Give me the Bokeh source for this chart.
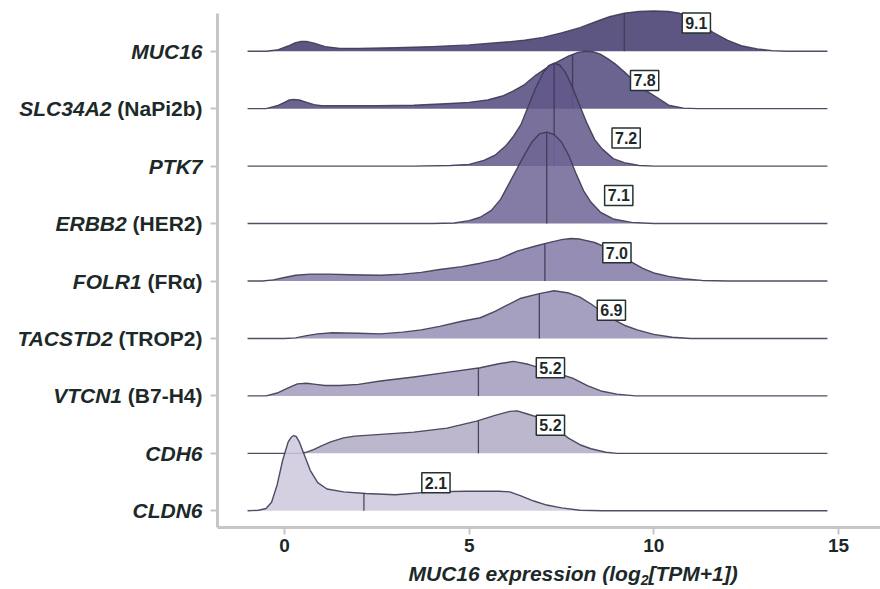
import numpy as np
from bokeh.plotting import figure
from bokeh.models import Range1d, FixedTicker, Label, LinearAxis
from bokeh.embed import file_html
from bokeh.resources import INLINE

# ---------------- data ----------------
genes = ["MUC16", "SLC34A2", "PTK7", "ERBB2", "FOLR1", "TACSTD2", "VTCN1", "CDH6", "CLDN6"]
aliases = ["", "(NaPi2b)", "", "(HER2)", "(FRα)", "(TROP2)", "(B7-H4)", "", ""]
median_labels = ["9.1", "7.8", "7.2", "7.1", "7.0", "6.9", "5.2", "5.2", "2.1"]
medians = [9.2, 7.8, 7.3, 7.1, 7.05, 6.9, 5.25, 5.25, 2.15]
x_ticks = [0, 5, 10, 15]

muc16_x = [-1.0, -0.5, -0.2, 0.1, 0.3, 0.45, 0.6, 0.8, 1.1, 1.5, 2.0, 3.0, 4.0, 5.0, 6.0, 6.5, 7.0, 7.5, 8.0, 8.5, 8.8,
           9.2, 9.6, 10.0, 10.4, 10.7, 11.0, 11.3, 11.6, 12.0, 12.4, 12.8, 13.2, 13.6, 14.7]
muc16_h = [0, 0, 0.02, 0.09, 0.15, 0.17, 0.17, 0.14, 0.08, 0.05, 0.05, 0.06, 0.08, 0.11, 0.16, 0.19, 0.24, 0.32, 0.41, 0.53, 0.60,
           0.66, 0.69, 0.70, 0.69, 0.66, 0.58, 0.46, 0.33, 0.19, 0.09, 0.04, 0.01, 0, 0]

slc34a2_x = [-1.0, -0.5, -0.2, 0.0, 0.12, 0.25, 0.4, 0.6, 0.8, 1.0, 1.5, 2.5, 3.5, 4.5, 5.0, 5.5, 5.9, 6.2, 6.5, 6.8, 7.1, 7.4,
             7.7, 7.95, 8.15, 8.35, 8.55, 8.75, 8.95, 9.2, 9.5, 9.8, 10.1, 10.4, 10.8, 11.2, 14.7]
slc34a2_h = [0, 0, 0.05, 0.11, 0.15, 0.16, 0.15, 0.11, 0.07, 0.05, 0.05, 0.05, 0.06, 0.09, 0.11, 0.15, 0.22, 0.31, 0.42, 0.58, 0.71, 0.82,
             0.92, 0.98, 1.0, 0.99, 0.95, 0.87, 0.78, 0.64, 0.46, 0.31, 0.19, 0.06, 0.01, 0.0, 0]

ptk7_x = [-1.0, 3.5, 4.5, 5.0, 5.4, 5.7, 6.0, 6.2, 6.4, 6.6, 6.8, 7.0, 7.15, 7.3, 7.45, 7.6, 7.8, 8.0, 8.2, 8.4,
          8.6, 8.9, 9.2, 9.6, 10.0, 14.7]
ptk7_h = [0, 0, 0.01, 0.03, 0.10, 0.19, 0.36, 0.52, 0.72, 1.04, 1.36, 1.62, 1.75, 1.79, 1.76, 1.64, 1.37, 1.04, 0.73, 0.46,
          0.30, 0.13, 0.06, 0.01, 0, 0]

erbb2_x = [-1.0, 4.0, 4.6, 5.0, 5.3, 5.6, 5.85, 6.1, 6.3, 6.5, 6.7, 6.9, 7.1, 7.3, 7.5, 7.7, 7.9, 8.1, 8.3, 8.55,
           8.9, 9.4, 10.0, 14.7]
erbb2_h = [0, 0, 0.01, 0.05, 0.11, 0.23, 0.42, 0.72, 0.96, 1.2, 1.42, 1.56, 1.59, 1.55, 1.42, 1.18, 0.86, 0.57, 0.37, 0.2,
           0.08, 0.02, 0, 0]

folr1_x = [-1.0, -0.6, -0.3, 0.0, 0.3, 0.7, 1.2, 1.8, 2.6, 3.2, 3.7, 4.2, 4.8, 5.3, 5.8, 6.3, 6.8, 7.1, 7.5, 7.75, 8.0,
           8.4, 8.8, 9.1, 9.4, 9.7, 10.0, 10.4, 10.8, 11.3, 12.0, 14.7]
folr1_h = [0, 0, 0.02, 0.06, 0.10, 0.12, 0.12, 0.11, 0.10, 0.12, 0.15, 0.20, 0.25, 0.31, 0.38, 0.52, 0.61, 0.66, 0.72, 0.74, 0.73,
           0.67, 0.56, 0.44, 0.33, 0.22, 0.14, 0.08, 0.04, 0.01, 0, 0]

tacstd2_x = [-1.0, 0.0, 0.3, 0.6, 0.9, 1.3, 2.0, 2.6, 3.2, 3.7, 4.2, 4.8, 5.3, 5.7, 6.0, 6.4, 6.9, 7.3, 7.7, 8.0,
             8.3, 8.6, 8.9, 9.2, 9.55, 10.0, 10.5, 11.0, 14.7]
tacstd2_h = [0, 0, 0.01, 0.05, 0.08, 0.10, 0.09, 0.08, 0.11, 0.15, 0.21, 0.30, 0.36, 0.47, 0.57, 0.70, 0.78, 0.83, 0.79, 0.72,
             0.60, 0.46, 0.33, 0.23, 0.15, 0.07, 0.02, 0, 0]

vtcn1_x = [-1.0, -0.5, -0.2, 0.1, 0.35, 0.6, 0.85, 1.1, 1.5, 2.0, 2.6, 3.5, 4.4, 5.3, 5.8, 6.2, 6.6, 7.0, 7.4, 7.8,
           8.2, 8.6, 9.0, 9.5, 14.7]
vtcn1_h = [0, 0, 0.05, 0.14, 0.21, 0.22, 0.20, 0.18, 0.18, 0.20, 0.26, 0.33, 0.41, 0.49, 0.56, 0.60, 0.55, 0.47, 0.39, 0.31,
           0.18, 0.08, 0.03, 0, 0]

cdh6_x = [-1.0, 0.4, 0.6, 0.8, 1.0, 1.25, 1.6, 1.9, 2.6, 3.5, 4.4, 5.2, 5.7, 6.1, 6.3, 6.6, 6.85, 7.1, 7.4, 7.7,
          8.0, 8.3, 8.7, 9.0, 14.7]
cdh6_h = [0, 0, 0.02, 0.07, 0.13, 0.20, 0.27, 0.30, 0.33, 0.37, 0.44, 0.56, 0.66, 0.73, 0.74, 0.68, 0.63, 0.53, 0.40, 0.26,
          0.15, 0.08, 0.02, 0, 0]

cldn6_x = [-1.0, -0.7, -0.5, -0.35, -0.2, -0.05, 0.1, 0.18, 0.25, 0.32, 0.4, 0.55, 0.7, 0.9, 1.15, 1.6, 2.2, 3.0, 4.0, 4.9,
           5.8, 6.1, 6.4, 6.75, 7.1, 7.5, 8.0, 8.6, 14.7]
cldn6_h = [0, 0.01, 0.04, 0.15, 0.45, 0.88, 1.20, 1.28, 1.31, 1.29, 1.20, 0.95, 0.70, 0.49, 0.38, 0.33, 0.30, 0.28, 0.33, 0.34,
           0.34, 0.33, 0.26, 0.17, 0.10, 0.05, 0.01, 0, 0]

densities = [(muc16_x, muc16_h), (slc34a2_x, slc34a2_h), (ptk7_x, ptk7_h), (erbb2_x, erbb2_h),
             (folr1_x, folr1_h), (tacstd2_x, tacstd2_h), (vtcn1_x, vtcn1_h), (cdh6_x, cdh6_h), (cldn6_x, cldn6_h)]

# ---------------- style ----------------
fills = ["#42386c", "#52497c", "#625789", "#706595", "#8379a6", "#978fb5", "#a39bbc", "#b1aac6", "#ccc8dd"]
FILL_ALPHA = 0.85
LINE_COLOR = "#3e3a52"
TEXT_COLOR = "#1d2929"
AXIS_COLOR = "#c6c6c6"
FONT = "Liberation Sans"

# Arial/Liberation Sans Bold advance widths (1/1000 em)
_W = {' ': 278, '(': 333, ')': 333, '[': 333, ']': 333, '+': 584, '-': 333, '.': 278,
      'A': 722, 'B': 722, 'C': 722, 'D': 722, 'E': 667, 'F': 611, 'H': 722, 'L': 611, 'M': 833,
      'N': 722, 'O': 778, 'P': 667, 'R': 722, 'S': 667, 'T': 611, 'U': 722, 'V': 667, 'K': 722,
      'a': 556, 'b': 611, 'e': 556, 'g': 611, 'i': 278, 'l': 278, 'n': 611, 'o': 611, 'p': 611,
      'r': 389, 's': 556, 'x': 556, 'α': 620}


def text_width(s, size):
    return sum(_W.get(c, 556) for c in s) / 1000.0 * size


W, H = 880, 589
# plot geometry (pixels): x=0 at 284 px, 15 at 838 px; ridge 0 baseline at 510.3 px, ridge spacing 57.45 px
KX = (838 - 284) / 15.0
KY = 57.45
X0 = -284 / KX
X1 = X0 + W / KX
Y1 = 510.3 / KY
Y0 = Y1 - H / KY


def sx(px):
    return X0 + px / KX


def sy(py):
    return Y1 - py / KY


SPINE_X = sx(217)
SPINE_Y = sy(526.5)
SPINE_TOP = sy(13)

p = figure(width=W, height=H, x_range=Range1d(X0, X1), y_range=Range1d(Y0, Y1),
           x_axis_type=None, y_axis_type=None,
           output_backend="svg", toolbar_location=None,
           min_border_left=0, min_border_right=0, min_border_top=0, min_border_bottom=0)
p.outline_line_color = None
p.background_fill_color = "white"
p.border_fill_color = "white"

n = len(genes)
for i, (gene, (xs, hs)) in enumerate(zip(genes, densities)):
    base = n - 1 - i
    xs = np.asarray(xs, dtype=float)
    hs = np.asarray(hs, dtype=float)
    px = np.concatenate([xs, xs[::-1]])
    py = np.concatenate([base + hs, np.full(len(xs), base)])
    p.patch(px, py, fill_color=fills[i], fill_alpha=FILL_ALPHA, line_color=None)
    p.line(xs, base + hs, line_color=LINE_COLOR, line_width=1.4, line_alpha=0.9, line_join="round")
    m = medians[i]
    hm = float(np.interp(m, xs, hs))
    p.segment(x0=[m], y0=[base], x1=[m], y1=[base + hm], line_color=LINE_COLOR, line_width=1.3, line_alpha=0.9)

# value boxes
for i in range(n):
    base = n - 1 - i
    p.add_layout(Label(x=medians[i] + 1.95, y=base + 0.49, text=median_labels[i],
                       text_align="center", text_baseline="middle",
                       text_font=FONT, text_font_size="16px", text_font_style="bold",
                       text_color=TEXT_COLOR,
                       border_line_color="#243232", border_line_width=1.5,
                       background_fill_color="white", background_fill_alpha=1.0,
                       padding=dict(left=3, right=3, top=4, bottom=4)))

# axes (fixed inside the full-canvas frame)
xaxis = LinearAxis(fixed_location=SPINE_Y, bounds=(SPINE_X, X1))
xaxis.ticker = FixedTicker(ticks=x_ticks)
xaxis.minor_tick_line_color = None
xaxis.axis_line_color = AXIS_COLOR
xaxis.axis_line_width = 3
xaxis.major_tick_line_color = AXIS_COLOR
xaxis.major_tick_line_width = 2
xaxis.major_tick_out = 7
xaxis.major_tick_in = 0
xaxis.major_label_standoff = 5
xaxis.major_label_text_font = FONT
xaxis.major_label_text_font_size = "19px"
xaxis.major_label_text_font_style = "bold"
xaxis.major_label_text_color = TEXT_COLOR
p.add_layout(xaxis, "below")

yaxis = LinearAxis(fixed_location=SPINE_X, bounds=(SPINE_Y, SPINE_TOP))
yaxis.ticker = FixedTicker(ticks=list(range(n)))
yaxis.major_label_overrides = {k: "" for k in range(n)}
yaxis.minor_tick_line_color = None
yaxis.axis_line_color = AXIS_COLOR
yaxis.axis_line_width = 3
yaxis.major_tick_line_color = AXIS_COLOR
yaxis.major_tick_line_width = 2
yaxis.major_tick_out = 7
yaxis.major_tick_in = 0
p.add_layout(yaxis, "left")

# category labels (italic gene symbol + regular alias)
LABEL_SIZE = 21
for i in range(n):
    base = n - 1 - i
    xr = sx(202)
    if aliases[i]:
        p.add_layout(Label(x=xr, y=base, text=aliases[i], text_align="right", text_baseline="middle",
                           text_font=FONT, text_font_size=f"{LABEL_SIZE}px", text_font_style="bold",
                           text_color=TEXT_COLOR))
        xr = xr - text_width(aliases[i] + " ", LABEL_SIZE) / KX
    p.add_layout(Label(x=xr, y=base, text=genes[i], text_align="right", text_baseline="middle",
                       text_font=FONT, text_font_size=f"{LABEL_SIZE}px", text_font_style="bold italic",
                       text_color=TEXT_COLOR))

# x axis title with subscript
t1, t2, t3 = "MUC16 expression (log", "2", "[TPM+1])"
tx = sx(408)
ty = sy(573)
p.add_layout(Label(x=tx, y=ty, text=t1, text_align="left", text_baseline="middle",
                   text_font=FONT, text_font_size="21px", text_font_style="bold italic", text_color=TEXT_COLOR))
tx2 = tx + text_width(t1, 21) / KX
p.add_layout(Label(x=tx2, y=sy(579), text=t2, text_align="left", text_baseline="middle",
                   text_font=FONT, text_font_size="14px", text_font_style="bold italic", text_color=TEXT_COLOR))
tx3 = tx2 + text_width(t2, 14) / KX
p.add_layout(Label(x=tx3, y=ty, text=t3, text_align="left", text_baseline="middle",
                   text_font=FONT, text_font_size="21px", text_font_style="bold italic", text_color=TEXT_COLOR))

open("out.html", "w").write(file_html(p, INLINE))
